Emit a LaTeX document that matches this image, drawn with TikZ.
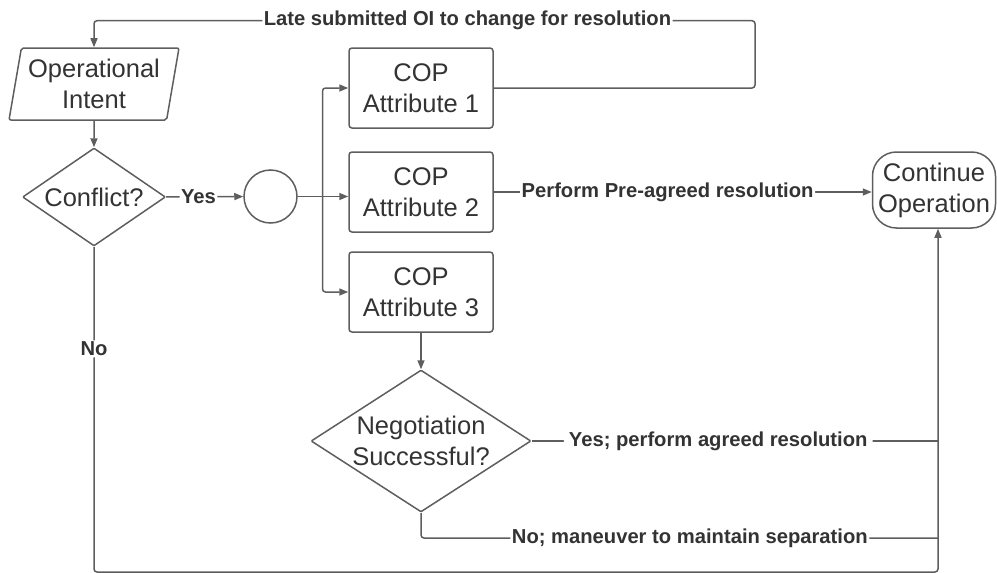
\documentclass[tikz,border=0pt]{standalone}
\usepackage{fontspec}
\setmainfont{Liberation Sans}
\usetikzlibrary{shapes.geometric,arrows.meta}
\definecolor{ln}{HTML}{5E5E5E}
\definecolor{tx}{HTML}{333333}
\begin{document}
\begin{tikzpicture}[x=1pt,y=-1pt,
 conn/.style={draw=ln, line width=1.5pt, rounded corners=3pt},
 arr/.style={conn, -{Triangle[length=9pt,width=7pt]}},
 nodetext/.style={text=tx, font=\fontsize{25.5}{31}\selectfont, align=center},
 box/.style={nodetext, draw=ln, line width=1.5pt, rounded corners=3pt, minimum width=144pt, minimum height=80pt, inner sep=0pt},
 para/.style={nodetext, draw=ln, line width=1.5pt, trapezium, trapezium left angle=76, trapezium right angle=104, trapezium stretches body, minimum width=170pt, minimum height=72pt, inner sep=0pt, rounded corners=2pt},
 dia/.style={nodetext, draw=ln, line width=1.5pt, diamond, aspect=1.46, inner sep=0pt, rounded corners=1pt},
 term/.style={nodetext, draw=ln, line width=1.5pt, rounded corners=24pt, minimum width=123pt, minimum height=76pt, inner sep=0pt},
 lbl/.style={text=tx, font=\bfseries\fontsize{20.2}{24}\selectfont, fill=white, inner sep=1.5pt},
 ]
\useasboundingbox (0,0) rectangle (997,573);

\node[para] (oi) at (94,84) {Operational\\Intent};
\node[dia, minimum width=143pt, minimum height=98pt] (conf) at (94,197) {Conflict?};
\node[circle, draw=ln, line width=1.5pt, minimum size=53pt, inner sep=0pt] (circ) at (270.5,196.5) {};
\node[box] (c1) at (421,88) {COP\\Attribute 1};
\node[box] (c2) at (421,192) {COP\\Attribute 2};
\node[box] (c3) at (421,292) {COP\\Attribute 3};
\node[term] (cont) at (934,190) {Continue\\Operation};
\node[dia, minimum width=220pt, minimum height=142pt] (neg) at (421,441) {};
\node[nodetext, inner sep=0pt] (negt) at (neg.center) {Negotiation\\Successful?};

\coordinate (br) at (322.5,196.5);
\coordinate (lr) at (755,20.7);
\coordinate (ll) at (94,20.7);
\coordinate (jy) at (938,441);
\coordinate (jn) at (938,538);
\coordinate (nb) at (94,572);
\coordinate (bot) at (938,572);

\draw[arr] (oi) -- (conf);
\draw[arr] (conf) -- node[lbl,pos=0.42]{Yes} (circ);
\draw[conn] (circ) -- (br);
\draw[arr] (br) |- (c1.west);
\draw[arr] (br) -- (c2.west |- br);
\draw[arr] (br) |- (c3.west);
\draw[arr] (c1.east) -| (lr) -- node[lbl,pos=0.435]{Late submitted OI to change for resolution} (ll) -- (oi.north);
\draw[arr] (c2.east) -- node[lbl,pos=0.46]{Perform Pre-agreed resolution} (cont.west |- c2.east);
\draw[arr] (c3) -- (neg);
\draw[conn] (neg.east) -- node[lbl,pos=0.459,inner xsep=5pt]{Yes; perform agreed resolution} (jy);
\draw[conn] (neg.south) |- node[lbl,pos=0.76]{No; maneuver to maintain separation} (jn);
\draw[arr] (conf.south) -- node[lbl,pos=0.314]{No} (nb) -- (bot) -- (bot |- cont.south);
\end{tikzpicture}
\end{document}
